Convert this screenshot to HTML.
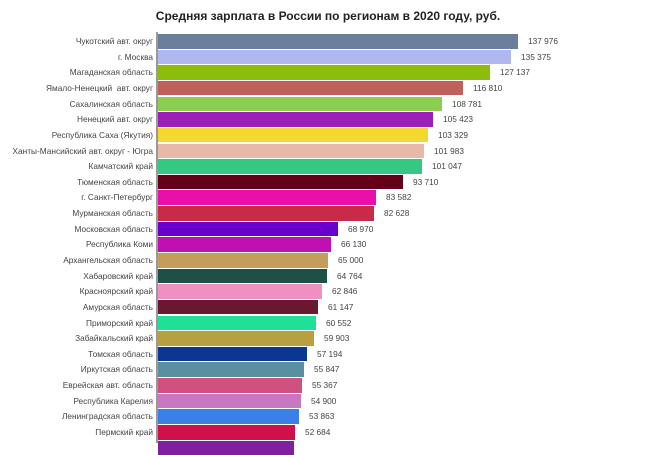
<!DOCTYPE html>
<html><head><meta charset="utf-8"><style>
body{margin:0;background:#fff;width:650px;height:443px;overflow:hidden;position:relative;font-family:"Liberation Sans",sans-serif}
.t{position:absolute;left:0;width:656px;top:9px;text-align:center;font-size:12px;font-weight:bold;color:#222}
.ax{position:absolute;left:156px;top:32px;width:1.5px;height:411px;background:#999}
.b{position:absolute;left:158px;height:14.5px}
.l{position:absolute;right:497px;font-size:8.3px;color:#444;line-height:14px;white-space:nowrap}
.v{position:absolute;font-size:8.3px;color:#444;line-height:14px;white-space:nowrap}
</style></head><body>
<div class="t">Средняя зарплата в России по регионам в 2020 году, руб.</div>
<div class="ax"></div>

<div class="b" style="top:34px;width:360px;background:#6a7f9c"></div><div class="l" style="top:34px">Чукотский авт. округ</div><div class="v" style="top:34px;left:528px">137 976</div>
<div class="b" style="top:49.6px;width:353px;background:#b0b8f0"></div><div class="l" style="top:49.6px">г. Москва</div><div class="v" style="top:49.6px;left:521px">135 375</div>
<div class="b" style="top:65.3px;width:332px;background:#8cbd0a"></div><div class="l" style="top:65.3px">Магаданская область</div><div class="v" style="top:65.3px;left:500px">127 137</div>
<div class="b" style="top:80.9px;width:305px;background:#c0605a"></div><div class="l" style="top:80.9px">Ямало-Ненецкий&nbsp; авт. округ</div><div class="v" style="top:80.9px;left:473px">116 810</div>
<div class="b" style="top:96.6px;width:284px;background:#8ccf50"></div><div class="l" style="top:96.6px">Сахалинская область</div><div class="v" style="top:96.6px;left:452px">108 781</div>
<div class="b" style="top:112.2px;width:275px;background:#9a20b8"></div><div class="l" style="top:112.2px">Ненецкий авт. округ</div><div class="v" style="top:112.2px;left:443px">105 423</div>
<div class="b" style="top:127.8px;width:270px;background:#f2d830"></div><div class="l" style="top:127.8px">Республика Саха (Якутия)</div><div class="v" style="top:127.8px;left:438px">103 329</div>
<div class="b" style="top:143.5px;width:266px;background:#e8b8a8"></div><div class="l" style="top:143.5px">Ханты-Мансийский авт. округ - Югра</div><div class="v" style="top:143.5px;left:434px">101 983</div>
<div class="b" style="top:159.1px;width:264px;background:#34c882"></div><div class="l" style="top:159.1px">Камчатский край</div><div class="v" style="top:159.1px;left:432px">101 047</div>
<div class="b" style="top:174.8px;width:245px;background:#640018"></div><div class="l" style="top:174.8px">Тюменская область</div><div class="v" style="top:174.8px;left:413px">93 710</div>
<div class="b" style="top:190.4px;width:218px;background:#e810a8"></div><div class="l" style="top:190.4px">г. Санкт-Петербург</div><div class="v" style="top:190.4px;left:386px">83 582</div>
<div class="b" style="top:206px;width:216px;background:#c82a48"></div><div class="l" style="top:206px">Мурманская область</div><div class="v" style="top:206px;left:384px">82 628</div>
<div class="b" style="top:221.7px;width:180px;background:#6a00cc"></div><div class="l" style="top:221.7px">Московская область</div><div class="v" style="top:221.7px;left:348px">68 970</div>
<div class="b" style="top:237.3px;width:173px;background:#c010b0"></div><div class="l" style="top:237.3px">Республика Коми</div><div class="v" style="top:237.3px;left:341px">66 130</div>
<div class="b" style="top:253px;width:170px;background:#c49c5c"></div><div class="l" style="top:253px">Архангельская область</div><div class="v" style="top:253px;left:338px">65 000</div>
<div class="b" style="top:268.6px;width:169px;background:#1e5048"></div><div class="l" style="top:268.6px">Хабаровский край</div><div class="v" style="top:268.6px;left:337px">64 764</div>
<div class="b" style="top:284.2px;width:164px;background:#f090c0"></div><div class="l" style="top:284.2px">Красноярский край</div><div class="v" style="top:284.2px;left:332px">62 846</div>
<div class="b" style="top:299.9px;width:160px;background:#6a1830"></div><div class="l" style="top:299.9px">Амурская область</div><div class="v" style="top:299.9px;left:328px">61 147</div>
<div class="b" style="top:315.5px;width:158px;background:#20e098"></div><div class="l" style="top:315.5px">Приморский край</div><div class="v" style="top:315.5px;left:326px">60 552</div>
<div class="b" style="top:331.2px;width:156px;background:#b8a040"></div><div class="l" style="top:331.2px">Забайкальский край</div><div class="v" style="top:331.2px;left:324px">59 903</div>
<div class="b" style="top:346.8px;width:149px;background:#0a3890"></div><div class="l" style="top:346.8px">Томская область</div><div class="v" style="top:346.8px;left:317px">57 194</div>
<div class="b" style="top:362.4px;width:146px;background:#5890a0"></div><div class="l" style="top:362.4px">Иркутская область</div><div class="v" style="top:362.4px;left:314px">55 847</div>
<div class="b" style="top:378.1px;width:144px;background:#d05080"></div><div class="l" style="top:378.1px">Еврейская авт. область</div><div class="v" style="top:378.1px;left:312px">55 367</div>
<div class="b" style="top:393.7px;width:143px;background:#c878c0"></div><div class="l" style="top:393.7px">Республика Карелия</div><div class="v" style="top:393.7px;left:311px">54 900</div>
<div class="b" style="top:409.4px;width:141px;background:#3a80e8"></div><div class="l" style="top:409.4px">Ленинградская область</div><div class="v" style="top:409.4px;left:309px">53 863</div>
<div class="b" style="top:425px;width:137px;background:#d01048"></div><div class="l" style="top:425px">Пермский край</div><div class="v" style="top:425px;left:305px">52 684</div>
<div class="b" style="top:440.6px;width:136px;background:#8020a0"></div>
</body></html>
